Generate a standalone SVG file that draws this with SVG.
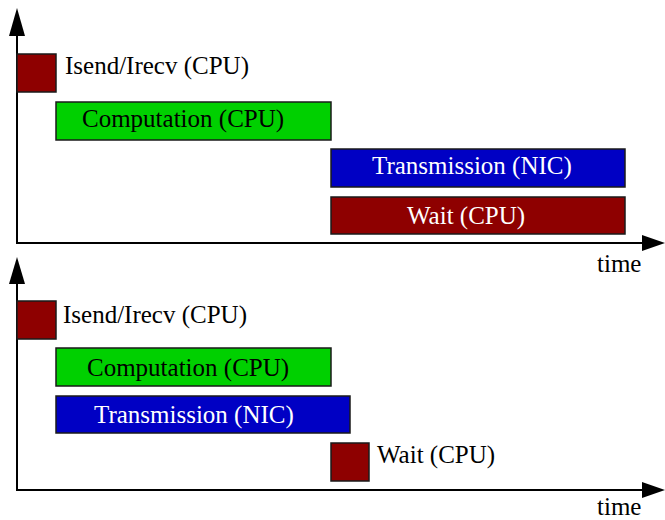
<svg xmlns="http://www.w3.org/2000/svg" width="665" height="520" viewBox="0 0 665 520">
<defs>
<style>
.box{stroke:#1a1a1a;stroke-width:1.5}
.red{fill:#8e0000}
.green{fill:#00d000}
.blue{fill:#0000c4}
.axis{stroke:#000;stroke-width:2;fill:none}
.head{fill:#000}
.t{font-family:'Liberation Serif','Times New Roman',Times,'DejaVu Serif',serif;font-size:25px}
.dk{fill:#000}
.wt{fill:#fff}
</style>
</defs>
<rect width="665" height="520" fill="#fff"/>
<g id="axes">
<path class="axis" d="M17,35 V243 H643"/>
<polygon class="head" points="9,36 17,8 25,36"/>
<polygon class="head" points="642,235 665,243 642,251"/>
<path class="axis" d="M17,283 V490 H643"/>
<polygon class="head" points="9,284 17,257 25,284"/>
<polygon class="head" points="642,482 665,490 642,498"/>
</g>
<g id="top-isend">
<rect class="box red" x="17" y="54" width="39" height="38"/>
<text class="t dk" x="65" y="74">Isend/Irecv (CPU)</text>
</g>
<g id="top-computation">
<rect class="box green" x="56" y="102" width="275" height="38"/>
<text class="t dk" x="82" y="127">Computation (CPU)</text>
</g>
<g id="top-transmission">
<rect class="box blue" x="331" y="149" width="294" height="38"/>
<text class="t wt" x="372" y="174">Transmission (NIC)</text>
</g>
<g id="top-wait">
<rect class="box red" x="331" y="197" width="294" height="37"/>
<text class="t wt" x="407" y="224">Wait (CPU)</text>
</g>
<g id="top-time">
<text class="t dk" x="597" y="272">time</text>
</g>
<g id="bottom-isend">
<rect class="box red" x="17" y="301" width="39" height="38"/>
<text class="t dk" x="63" y="323">Isend/Irecv (CPU)</text>
</g>
<g id="bottom-computation">
<rect class="box green" x="56" y="348" width="275" height="38"/>
<text class="t dk" x="87" y="376">Computation (CPU)</text>
</g>
<g id="bottom-transmission">
<rect class="box blue" x="56" y="396" width="294" height="37"/>
<text class="t wt" x="94" y="423">Transmission (NIC)</text>
</g>
<g id="bottom-wait">
<rect class="box red" x="331" y="443" width="38" height="38"/>
<text class="t dk" x="377" y="463">Wait (CPU)</text>
</g>
<g id="bottom-time">
<text class="t dk" x="597" y="515">time</text>
</g>
</svg>
